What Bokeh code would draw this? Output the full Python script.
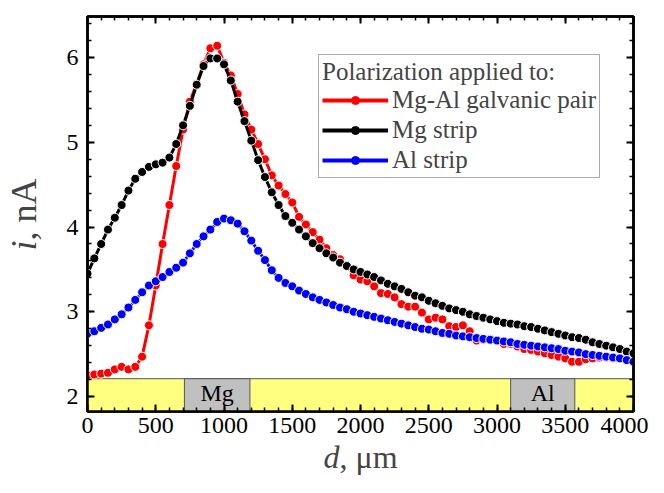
from bokeh.plotting import figure
from bokeh.models import (Range1d, FixedTicker, LinearAxis, Legend, LegendItem,
                          Title, ColumnDataSource, CDSView, IndexFilter)
from bokeh.core.properties import value
from bokeh.embed import file_html
from bokeh.resources import INLINE

# ---------------- data ----------------
d_um = list(range(0, 4001, 50))

i_pair = [2.25, 2.26, 2.27, 2.28, 2.32, 2.35, 2.32, 2.35, 2.47, 2.84,
          3.31, 3.80, 4.26, 4.72, 5.15, 5.48, 5.69, 5.92, 6.11, 6.14,
          5.94, 5.79, 5.57, 5.33, 5.15, 4.98, 4.80, 4.61, 4.49, 4.39,
          4.29, 4.12, 4.03, 3.94, 3.85, 3.75, 3.67, 3.62, 3.55, 3.43,
          3.38, 3.36, 3.30, 3.22, 3.21, 3.17, 3.09, 3.06, 3.06, 2.99,
          2.91, 2.93, 2.91, 2.83, 2.82, 2.84, 2.77, 2.66, 2.67, 2.68,
          2.66, 2.62, 2.62, 2.59, 2.56, 2.55, 2.53, 2.51, 2.49, 2.47,
          2.45, 2.41, 2.41, 2.44, 2.45, 2.46, 2.46, 2.45, 2.45, 2.44,
          2.43]

i_mg = [3.45, 3.63, 3.80, 3.97, 4.11, 4.26, 4.43, 4.57, 4.65, 4.71,
        4.74, 4.76, 4.82, 4.98, 5.20, 5.43, 5.68, 5.90, 5.99, 5.99,
        5.92, 5.73, 5.48, 5.25, 5.02, 4.79, 4.59, 4.41, 4.26, 4.13,
        4.05, 3.97, 3.89, 3.81, 3.75, 3.69, 3.64, 3.58, 3.54, 3.50,
        3.47, 3.44, 3.41, 3.37, 3.33, 3.30, 3.27, 3.23, 3.19, 3.17,
        3.13, 3.10, 3.07, 3.04, 3.02, 3.00, 2.97, 2.95, 2.93, 2.91,
        2.89, 2.87, 2.86, 2.85, 2.83, 2.82, 2.80, 2.78, 2.76, 2.74,
        2.72, 2.70, 2.69, 2.67, 2.64, 2.62, 2.60, 2.58, 2.56, 2.53,
        2.51]

i_al = [2.74, 2.77, 2.81, 2.85, 2.91, 2.97, 3.05, 3.14, 3.23, 3.31,
        3.36, 3.41, 3.47, 3.52, 3.58, 3.69, 3.80, 3.89, 3.97, 4.06,
        4.10, 4.08, 4.04, 3.95, 3.84, 3.72, 3.61, 3.49, 3.40, 3.34,
        3.30, 3.25, 3.21, 3.17, 3.14, 3.11, 3.08, 3.05, 3.03, 3.00,
        2.98, 2.96, 2.94, 2.92, 2.90, 2.88, 2.86, 2.84, 2.82, 2.80,
        2.79, 2.77, 2.75, 2.74, 2.72, 2.71, 2.70, 2.69, 2.68, 2.67,
        2.66, 2.65, 2.64, 2.62, 2.61, 2.60, 2.59, 2.58, 2.57, 2.56,
        2.54, 2.53, 2.52, 2.50, 2.49, 2.48, 2.47, 2.46, 2.45, 2.43,
        2.41]

series_names = ["Mg-Al galvanic pair", "Mg strip", "Al strip"]
series_colors = ["#ff0000", "#000000", "#0000ff"]

# strip band (sample layout) at the bottom
band_bottom = [1.823]
band_top = [2.21]
band_left = [0]
band_right = [4000]
region_names = ["Mg", "Al"]
region_start = [710, 3100]
region_end = [1190, 3570]
region_label_y = [2.045, 2.045]

x_ticks = [0, 500, 1000, 1500, 2000, 2500, 3000, 3500, 4000]
x_minor = list(range(0, 4001, 100))
y_ticks = [2, 3, 4, 5, 6]
y_minor = [round(1.8 + 0.2 * k, 1) for k in range(0, 25)]

x_lo, x_hi = 0, 4000
y_lo, y_hi = 1.823, 6.485

FONT = "Liberation Serif"

# ---------------- figure ----------------
p = figure(width=648, height=477, output_backend="svg", toolbar_location=None,
           x_range=Range1d(x_lo, x_hi), y_range=Range1d(y_lo, y_hi),
           min_border_left=87, min_border_right=15, min_border_top=16,
           min_border_bottom=66)
p.grid.visible = False
p.background_fill_color = "white"
p.border_fill_color = "white"
p.outline_line_color = "black"
p.outline_line_width = 2.5

# band + regions
p.quad(left=band_left, right=band_right, bottom=band_bottom, top=band_top,
       fill_color="#ffff80", line_color="#555555", line_width=1)
reg_src = ColumnDataSource(dict(
    left=region_start, right=region_end,
    bottom=band_bottom * len(region_names), top=band_top * len(region_names),
    name=region_names,
    xc=[(a + b) / 2 for a, b in zip(region_start, region_end)],
    yc=region_label_y))
p.quad(left="left", right="right", bottom="bottom", top="top", source=reg_src,
       fill_color="#c0c0c0", line_color="#555555", line_width=1)
p.text(x="xc", y="yc", text="name", source=reg_src, text_align="center",
       text_baseline="middle", text_font=value(FONT),
       text_font_size="24px", text_color="black")

# series (drawn red, black, blue)
legend_items = []
for name, vals, col in zip(series_names, [i_pair, i_mg, i_al], series_colors):
    src = ColumnDataSource(dict(x=d_um, y=vals))
    # legend proxies: a single point, drawn underneath the real markers
    lr = p.line("x", "y", source=src, view=CDSView(filter=IndexFilter(indices=[0])),
                line_color=col, line_width=4, level="underlay")
    sr = p.scatter("x", "y", source=src, view=CDSView(filter=IndexFilter(indices=[0])),
                   size=7, fill_color=col, line_color=col, level="underlay")
    p.line("x", "y", source=src, line_color=col, line_width=3)
    p.scatter("x", "y", source=src, size=9, fill_color=col,
              line_color="white", line_width=1.0)
    legend_items.append(LegendItem(label=name, renderers=[lr, sr]))

legend = Legend(items=legend_items, location=(231, 233),
                title="Polarization applied to:",
                title_text_font=FONT, title_text_font_size="25px",
                title_text_font_style="normal", title_standoff=0,
                label_text_font=FONT, label_text_font_size="25px",
                glyph_width=66, glyph_height=20, label_standoff=4,
                label_height=24, spacing=2, padding=3, margin=0,
                border_line_color="#555555", border_line_width=1,
                background_fill_color="white", background_fill_alpha=1)
p.add_layout(legend, "center")

# ---------------- axes ----------------
def style_axis(ax, ticks, minor, show_labels=True):
    ax.ticker = FixedTicker(ticks=ticks, minor_ticks=minor)
    ax.axis_line_width = 2.5
    ax.axis_line_color = "black"
    ax.major_tick_line_width = 2
    ax.minor_tick_line_width = 1.5
    ax.major_tick_in = 7
    ax.major_tick_out = 0
    ax.minor_tick_in = 4
    ax.minor_tick_out = 0
    ax.major_label_text_font = FONT
    ax.major_label_text_font_size = "24px"
    ax.major_label_text_color = "black"
    if not show_labels:
        ax.major_label_overrides = {t: "" for t in ticks}
        ax.major_label_standoff = 0

xa = p.xaxis[0]
style_axis(xa, x_ticks, x_minor)
xa.major_label_standoff = 6
xa.axis_label = " "
xa.axis_label_text_font_size = "8px"
xa.axis_label_standoff = 9

ya = p.yaxis[0]
style_axis(ya, y_ticks, y_minor)
ya.major_label_standoff = 9
ya.axis_label = " "
ya.axis_label_text_font_size = "8px"
ya.axis_label_standoff = 28

top_ax = LinearAxis()
style_axis(top_ax, x_ticks, x_minor, show_labels=False)
p.add_layout(top_ax, "above")
right_ax = LinearAxis()
style_axis(right_ax, y_ticks, y_minor, show_labels=False)
p.add_layout(right_ax, "right")

# ---------------- axis titles (italic symbol + plain unit) ----------------
# zero-height side titles placed at the outer edge of the axis panels
p.add_layout(Title(text="d", text_font=FONT, text_font_size="32px",
                   text_font_style="italic", align="right", vertical_align="middle",
                   offset=294, standoff=-39), "below")
p.add_layout(Title(text=", μm", text_font=FONT, text_font_size="32px",
                   text_font_style="normal", align="left", vertical_align="middle",
                   offset=252, standoff=-39), "below")
p.add_layout(Title(text="i", text_font=FONT, text_font_size="36px",
                   text_font_style="italic", align="right", vertical_align="middle",
                   offset=224, standoff=-44), "left")
p.add_layout(Title(text=", nA", text_font=FONT, text_font_size="36px",
                   text_font_style="normal", align="left", vertical_align="middle",
                   offset=171, standoff=-44), "left")

open("out.html", "w").write(file_html(p, INLINE))
